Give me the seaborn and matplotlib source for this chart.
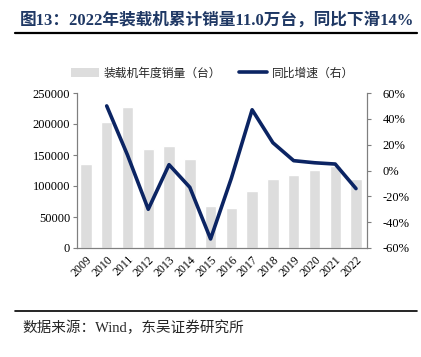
import numpy as np
import pandas as pd
import matplotlib
matplotlib.use("Agg")
import matplotlib.pyplot as plt
import seaborn as sns
from matplotlib.lines import Line2D
from matplotlib.patches import Patch
from matplotlib.ticker import FuncFormatter

years = ["2009", "2010", "2011", "2012", "2013", "2014", "2015", "2016",
         "2017", "2018", "2019", "2020", "2021", "2022"]
sales = [136000, 203000, 228000, 159000, 165000, 143000, 68000, 64000,
         92000, 111000, 118000, 125500, 132000, 112000]
growth = [np.nan, 50, 12, -30, 4.5, -13, -53, -6, 47, 21.5, 7.6, 6, 5, -14]

bar_label = "装载机年度销量（台）"
line_label = "同比增速（右）"
title = "图13：2022年装载机累计销量11.0万台，同比下滑14%"
source = "数据来源：Wind，东吴证券研究所"

sns.set_style("white")
plt.rcParams['font.family'] = ['Liberation Serif', 'Noto Sans CJK SC', 'DejaVu Sans']

df = pd.DataFrame({"year": years, "sales": sales, "growth": growth,
                   "pos": np.arange(len(years))})

fig = plt.figure(figsize=(4.21, 3.57), dpi=100)
ax = fig.add_axes([77/421, 1-248/357, 290/421, 155/357])

sns.barplot(data=df, x="year", y="sales", color="#DDDDDD", width=0.55,
            saturation=1, ax=ax, zorder=1)
ax.set_ylim(0, 250000)
ax.set_yticks(np.arange(0, 250001, 50000))
ax.set_xlim(-0.43, 13.53)
ax.set_xlabel("")
ax.set_ylabel("")

ax2 = ax.twinx()
sns.lineplot(data=df, x="pos", y="growth", color="#0B2463", linewidth=2.6,
             ax=ax2, zorder=3)
ax2.set_ylim(-60, 60)
ax2.set_yticks(np.arange(-60, 61, 20))
ax2.yaxis.set_major_formatter(FuncFormatter(lambda v, p: f"{int(round(v))}%"))
ax2.set_xlim(-0.43, 13.53)
ax2.set_ylabel("")
ax2.set_xlabel("")

spine_c = "#7F7F7F"
for a in (ax, ax2):
    a.spines['top'].set_visible(False)
    for s in ('left', 'right', 'bottom'):
        a.spines[s].set_color(spine_c)
        a.spines[s].set_linewidth(0.8)
    a.tick_params(colors="#000000", labelsize=9, length=3, width=0.8)
    for t in a.get_yticklabels() + a.get_xticklabels():
        t.set_fontfamily(['Liberation Serif'])
ax.tick_params(axis='y', direction='out', color=spine_c, pad=2)
ax2.tick_params(axis='y', direction='out', color=spine_c, pad=8)
ax.tick_params(axis='x', direction='in', color=spine_c, length=3)
ax.set_xticks(np.arange(len(years)))
ax.set_xticklabels(years, rotation=45, ha='right', rotation_mode='anchor',
                   fontsize=8.5, fontfamily='Liberation Serif')
ax.tick_params(axis='x', pad=4)

# Legend
handles = [Patch(facecolor="#DDDDDD", edgecolor="none", label=bar_label),
           Line2D([0], [0], color="#0B2463", lw=2.6, label=line_label)]
leg = fig.legend(handles=handles, loc='center', bbox_to_anchor=(0.505, 1-73/357),
                 ncol=2, frameon=False, handlelength=2.4,
                 handleheight=0.9, columnspacing=1.5, handletextpad=0.4,
                 prop={'family': ['Noto Sans CJK SC'], 'size': 8.5})

# Title and rules
fig.text(0.516, 1-20/357, title, ha='center', va='center', fontsize=12,
         fontweight='bold', color="#1F3864")
fig.add_artist(Line2D([15/421, 417/421], [1-33/357, 1-33/357],
                      color='black', lw=1.6, transform=fig.transFigure))
fig.add_artist(Line2D([15/421, 417/421], [1-311/357, 1-311/357],
                      color='black', lw=1.2, transform=fig.transFigure))
fig.text(22/421, 1-328/357, source, ha='left', va='center', fontsize=10.5,
         family=['Liberation Serif', 'Noto Sans CJK SC'])

fig.savefig("out.png", dpi=100)
